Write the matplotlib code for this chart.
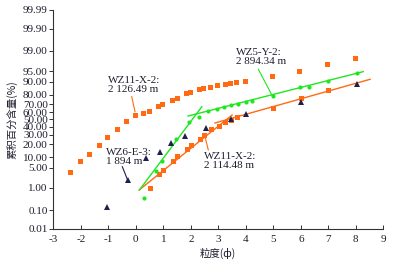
import numpy as np
import matplotlib
matplotlib.use('Agg')
import matplotlib.pyplot as plt
from statistics import NormalDist

# WZ11-X-2: 2 126.49 m (upper orange squares)
phi_a = [-2.40, -2.04, -1.71, -1.35, -1.05, -0.68, -0.36, -0.04, 0.27, 0.48, 0.80, 0.94,
         1.33, 1.49, 1.81, 1.98, 2.31, 2.44, 2.70, 2.96, 3.25, 3.44, 3.64, 3.96, 4.94,
         5.95, 6.94, 7.97]
pct_a = [3.8, 7.9, 12.1, 19.0, 27.6, 37.3, 48.4, 55.7, 59.1, 61.8, 67.3, 70.4,
         74.3, 76.7, 81.3, 82.5, 84.8, 85.5, 86.5, 88.1, 88.8, 89.4, 89.9, 90.7, 93.2,
         95.1, 97.0, 98.1]

# WZ11-X-2: 2 114.48 m (lower orange squares)
phi_b = [0.52, 0.83, 1.00, 1.34, 1.50, 1.85, 2.01, 2.33, 2.49, 2.72, 3.01, 3.23,
         3.46, 3.69, 4.98, 6.01, 6.99]
pct_b = [1.0, 3.2, 4.3, 7.9, 10.9, 15.6, 19.3, 24.9, 29.6, 37.0, 40.6, 47.0,
         49.7, 53.0, 65.6, 76.7, 84.2]

# WZ5-Y-2: 2 894.34 m (green dots)
phi_c = [0.28, 0.75, 0.95, 1.46, 1.94, 2.31, 2.64, 2.96, 3.21, 3.45, 3.73, 3.99,
         4.22, 4.98, 5.97, 6.28, 7.00, 8.03]
pct_c = [0.40, 4.0, 7.9, 25.9, 46.2, 53.0, 61.8, 64.3, 66.5, 68.5, 70.4, 72.2,
         73.3, 78.8, 86.3, 86.5, 90.6, 94.2]

# WZ6-E-3: 1 894 m (triangles)
phi_d = [-1.04, -0.30, 0.37, 0.88, 1.29, 1.79, 2.55, 3.46, 4.01, 6.01, 8.03]
pct_d = [0.153, 2.0, 9.4, 13.5, 21.2, 29.3, 38.2, 50.0, 57.7, 72.6, 88.9]

# fitted segments (end points)
fit_b1_phi, fit_b1_pct = [0.12, 3.50], [0.83, 56.0]
fit_b2_phi, fit_b2_pct = [2.88, 8.52], [45.3, 91.4]
fit_c1_phi, fit_c1_pct = [0.13, 2.40], [0.83, 66.8]
fit_c2_phi, fit_c2_pct = [1.90, 8.27], [54.7, 94.8]

y_ticks = [0.01, 0.1, 1, 5, 10, 20, 30, 40, 50, 60, 70, 80, 90, 95, 99, 99.9, 99.99]
x_ticks = list(range(-3, 10))

ORANGE = '#ff6a13'
GREEN = '#1fe61f'
NAVY = '#1c1f4f'
TXT = '#1e1e2e'

nd = NormalDist()
_ppf = np.vectorize(lambda p: nd.inv_cdf(p), otypes=[float])
_cdf = np.vectorize(lambda z: nd.cdf(z), otypes=[float])


def forward(p):
    p = np.clip(np.asarray(p, dtype=float) / 100.0, 1e-9, 1 - 1e-9)
    return _ppf(p)


def inverse(z):
    return _cdf(np.asarray(z, dtype=float)) * 100.0


plt.rcParams['font.family'] = ['Liberation Serif', 'Noto Sans CJK SC']

fig = plt.figure(figsize=(4.03, 2.63), dpi=100)
ax = fig.add_axes([0.1323, 0.1293, 0.8189, 0.8327])
ax.set_yscale('function', functions=(forward, inverse))

ax.plot(fit_b1_phi, fit_b1_pct, color=ORANGE, lw=1.0)
ax.plot(fit_b2_phi, fit_b2_pct, color=ORANGE, lw=1.0)
ax.plot(fit_c1_phi, fit_c1_pct, color=GREEN, lw=1.0)
ax.plot(fit_c2_phi, fit_c2_pct, color=GREEN, lw=1.0)

ax.plot(phi_a, pct_a, 's', color=ORANGE, ms=3.6, mew=0)
ax.plot(phi_b, pct_b, 's', color=ORANGE, ms=3.6, mew=0)
ax.plot(phi_c, pct_c, 'o', color=GREEN, ms=3.0, mew=0)
ax.plot(phi_d, pct_d, '^', color=NAVY, ms=4.6, mew=0)

# labels with leader lines
ax.text(-1.01, 87.6, 'WZ11-X-2:\n2 126.49 m', fontsize=8, color=TXT,
        ha='left', va='center', linespacing=1.0)
ax.plot([-0.149, -0.029], [78.1, 60.4], color=ORANGE, lw=0.8)

ax.text(3.645, 98.24, 'WZ5-Y-2:\n2 894.34 m', fontsize=8, color=TXT,
        ha='left', va='center', linespacing=1.0)
ax.plot([4.455, 4.964], [95.6, 78.8], color=GREEN, lw=0.8)

ax.text(-1.08, 9.96, 'WZ6-E-3:\n1 894 m', fontsize=8, color=TXT,
        ha='left', va='center', linespacing=1.0)
ax.plot([-0.491, -0.309], [5.45, 2.11], color=NAVY, lw=0.8)

ax.text(2.49, 7.83, 'WZ11-X-2:\n2 114.48 m', fontsize=8, color=TXT,
        ha='left', va='center', linespacing=1.0)
ax.plot([2.516, 2.636], [27.96, 15.0], color=ORANGE, lw=0.8)

ax.set_xlim(-3, 9)
ax.set_ylim(0.01, 99.99)
ax.set_xticks(x_ticks)
ax.set_xticklabels([str(t) for t in x_ticks])
ax.set_yticks(y_ticks)
ax.set_yticklabels(['%.2f' % t for t in y_ticks])
ax.minorticks_off()

for s in ['top', 'right']:
    ax.spines[s].set_visible(False)
for s in ['left', 'bottom']:
    ax.spines[s].set_color('#333333')
    ax.spines[s].set_linewidth(0.8)

ax.tick_params(axis='x', direction='in', length=3, width=0.7, labelsize=8,
               colors='#333333', labelcolor=TXT, pad=4)
ax.tick_params(axis='y', direction='out', length=3, width=0.7, labelsize=8,
               colors='#333333', labelcolor=TXT, pad=1)

fig.text(0.03, 0.545, '累积百分含量(%)', rotation=90, fontsize=7.5, color=TXT,
         ha='center', va='center', family=['Noto Sans CJK SC', 'DejaVu Sans'])
fig.text(0.541, 0.035, '粒度(ф)', fontsize=7.5, color=TXT,
         ha='center', va='center', family=['Noto Sans CJK SC', 'DejaVu Sans'])

fig.savefig('out.png', dpi=100)
